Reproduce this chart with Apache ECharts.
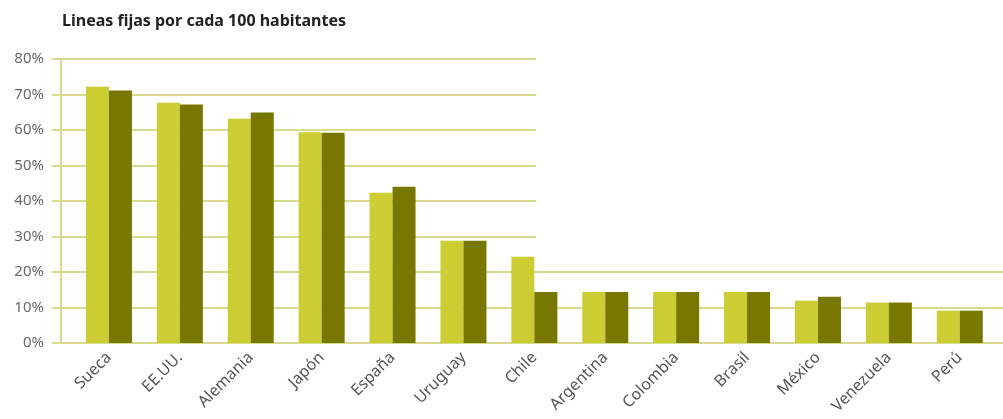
<!DOCTYPE html>
<html>
<head>
<meta charset="utf-8">
<script src="https://cdn.jsdelivr.net/npm/echarts@6/dist/echarts.min.js"></script>
<style>
  html, body { margin: 0; padding: 0; background: #ffffff; }
  #chart { width: 1003px; height: 419px; }
</style>
</head>
<body>
<div id="chart"></div>
<script>
// Fixed-line penetration by country (lines per 100 inhabitants)
const categories = ['Sueca', 'EE.UU.', 'Alemania', 'Japón', 'España', 'Uruguay', 'Chile',
  'Argentina', 'Colombia', 'Brasil', 'México', 'Venezuela', 'Perú'];
const seriesA = [72.2, 67.7, 63.2, 59.4, 42.3, 28.8, 24.3, 14.4, 14.4, 14.4, 11.9, 11.4, 9.1];
const seriesB = [71.1, 67.2, 64.9, 59.2, 44.0, 28.8, 14.4, 14.4, 14.4, 14.4, 13.0, 11.4, 9.1];
const yTicks = { min: 0, max: 80, step: 10 };

const gridColor = '#d8da8e';
const labelFont = '"Noto Sans", "Open Sans", sans-serif';

const chart = echarts.init(document.getElementById('chart'), null, { renderer: 'canvas' });

chart.setOption({
  animation: false,
  backgroundColor: '#ffffff',
  title: {
    text: 'Lineas fijas por cada 100 habitantes',
    left: 57,
    top: 8,
    textStyle: { fontFamily: labelFont, fontSize: 16, fontWeight: 'bold', color: '#222222' }
  },
  grid: [
    // plot area holding the bars
    { left: 73.5, right: 7.8, top: 59, bottom: 76 },
    // frame: value axis and the horizontal rules
    { left: 61, right: 0, top: 59, bottom: 76 }
  ],
  xAxis: [
    {
      gridIndex: 0,
      type: 'category',
      data: categories,
      axisLine: { show: false },
      axisTick: { show: false },
      axisLabel: {
        rotate: 45,
        margin: 12,
        padding: [10, 0, 0, 0],
        interval: 0,
        color: '#555555',
        fontFamily: labelFont,
        fontSize: 16
      }
    },
    {
      gridIndex: 1,
      type: 'value',
      min: 0,
      max: 1,
      axisLine: { show: false },
      axisTick: { show: false },
      axisLabel: { show: false },
      splitLine: { show: false }
    }
  ],
  yAxis: [
    {
      gridIndex: 0,
      type: 'value',
      min: yTicks.min,
      max: yTicks.max,
      interval: yTicks.step,
      show: false
    },
    {
      gridIndex: 1,
      type: 'value',
      min: yTicks.min,
      max: yTicks.max,
      interval: yTicks.step,
      axisLine: { show: true, lineStyle: { color: gridColor, width: 2 } },
      axisTick: { show: true, length: 9, lineStyle: { color: gridColor, width: 2 } },
      axisLabel: {
        margin: 17,
        formatter: '{value}%',
        color: '#6a6a6a',
        fontFamily: labelFont,
        fontSize: 15
      },
      splitLine: { show: true, lineStyle: { color: gridColor, width: 2 } }
    }
  ],
  graphic: [
    {
      type: 'rect',
      z: 1,
      silent: true,
      shape: { x: 536, y: 0, width: 470, height: 262 },
      style: { fill: '#ffffff' }
    }
  ],
  series: [
    {
      type: 'bar',
      xAxisIndex: 0,
      yAxisIndex: 0,
      data: seriesA,
      barWidth: 23,
      barGap: '0%',
      z: 3,
      itemStyle: { color: '#cccc33' }
    },
    {
      type: 'bar',
      xAxisIndex: 0,
      yAxisIndex: 0,
      data: seriesB,
      barWidth: 23,
      z: 3,
      itemStyle: { color: '#787800' }
    }
  ]
});
</script>
</body>
</html>
